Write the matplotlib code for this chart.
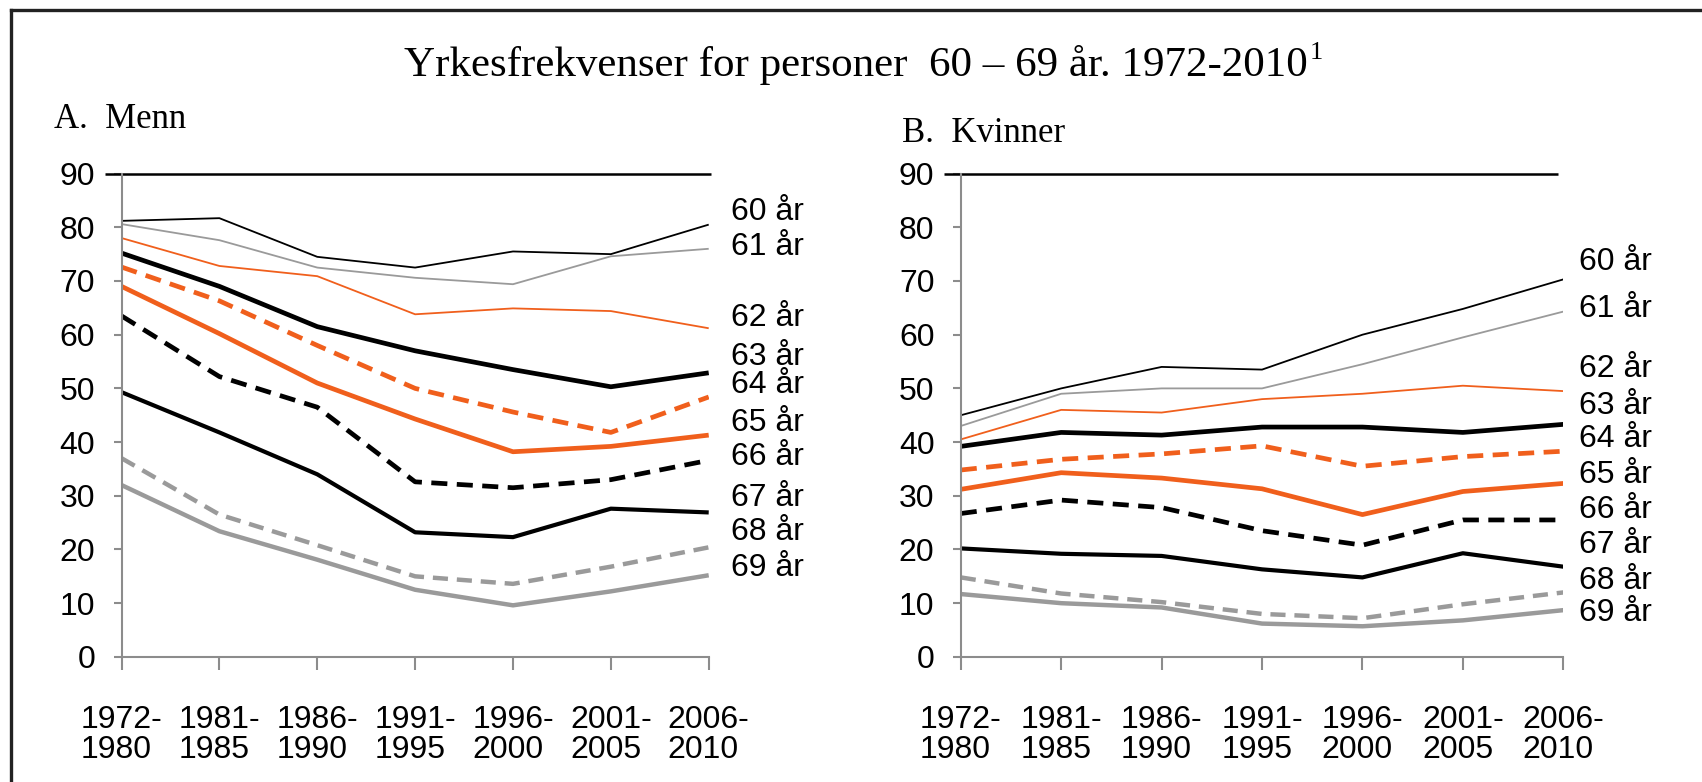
import matplotlib.pyplot as plt
from matplotlib.lines import Line2D

#
# Data (percent in work, by age group)
#
periods = ["1972-\n1980", "1981-\n1985", "1986-\n1990", "1991-\n1995",
           "1996-\n2000", "2001-\n2005", "2006-\n2010"]
ages = ["60 år", "61 år", "62 år", "63 år", "64 år",
        "65 år", "66 år", "67 år", "68 år", "69 år"]

menn_60 = [81.2, 81.7, 74.5, 72.5, 75.5, 75.0, 80.5]
menn_61 = [80.6, 77.6, 72.5, 70.6, 69.4, 74.6, 76.0]
menn_62 = [78.0, 72.8, 70.9, 63.8, 64.9, 64.4, 61.2]
menn_63 = [75.2, 69.0, 61.5, 57.0, 53.5, 50.3, 52.9]
menn_64 = [72.6, 66.3, 58.0, 50.0, 45.6, 41.8, 48.4]
menn_65 = [69.0, 60.2, 51.0, 44.3, 38.2, 39.2, 41.3]
menn_66 = [63.5, 52.2, 46.5, 32.6, 31.5, 33.0, 36.6]
menn_67 = [49.3, 41.8, 34.0, 23.2, 22.3, 27.6, 26.9]
menn_68 = [37.0, 26.5, 20.8, 15.0, 13.6, 16.8, 20.4]
menn_69 = [32.0, 23.4, 18.1, 12.5, 9.6, 12.2, 15.2]

kvinner_60 = [45.0, 50.0, 54.0, 53.5, 60.0, 64.8, 70.3]
kvinner_61 = [43.0, 49.0, 50.0, 50.0, 54.5, 59.5, 64.3]
kvinner_62 = [40.5, 46.0, 45.5, 48.0, 49.0, 50.5, 49.5]
kvinner_63 = [39.2, 41.8, 41.3, 42.8, 42.8, 41.8, 43.3]
kvinner_64 = [34.8, 36.8, 37.8, 39.3, 35.5, 37.3, 38.3]
kvinner_65 = [31.2, 34.3, 33.3, 31.3, 26.5, 30.8, 32.3]
kvinner_66 = [26.7, 29.2, 27.8, 23.5, 20.8, 25.5, 25.5]
kvinner_67 = [20.2, 19.2, 18.8, 16.3, 14.8, 19.3, 16.8]
kvinner_68 = [14.8, 11.8, 10.2, 8.0, 7.2, 9.8, 12.0]
kvinner_69 = [11.7, 10.0, 9.2, 6.2, 5.7, 6.8, 8.7]

menn = [menn_60, menn_61, menn_62, menn_63, menn_64,
        menn_65, menn_66, menn_67, menn_68, menn_69]
kvinner = [kvinner_60, kvinner_61, kvinner_62, kvinner_63, kvinner_64,
           kvinner_65, kvinner_66, kvinner_67, kvinner_68, kvinner_69]

# where the age labels sit (y, in data units)
label_y_menn = [82.9, 76.3, 63.2, 55.9, 50.7, 43.5, 37.2, 29.6, 23.3, 16.6]
label_y_kvinner = [73.5, 64.7, 53.6, 46.7, 40.5, 33.8, 27.3, 20.8, 14.2, 8.1]

#
# Styles
#
orange = "#f05f1c"
grey = "#9a9a9a"
dash = (3.4, 2.0)
styles = [
    dict(color="black", lw=1.3),
    dict(color=grey, lw=1.3),
    dict(color=orange, lw=1.3),
    dict(color="black", lw=3.4),
    dict(color=orange, lw=3.4, dashes=dash),
    dict(color=orange, lw=3.4),
    dict(color="black", lw=3.4, dashes=dash),
    dict(color="black", lw=3.0),
    dict(color=grey, lw=3.2, dashes=dash),
    dict(color=grey, lw=3.2),
]

sans = ["Liberation Sans Narrow", "Liberation Sans", "DejaVu Sans"]
serif = ["Liberation Serif", "DejaVu Serif"]

fig = plt.figure(figsize=(17.02, 7.82), dpi=100)

# frame (top and left border)
fig.add_artist(Line2D([0.0065, 1.0], [0.987, 0.987], color="#222222", lw=2.4,
                      transform=fig.transFigure))
fig.add_artist(Line2D([0.0065, 0.0065], [0.0, 0.987], color="#222222", lw=2.4,
                      transform=fig.transFigure))

title = fig.text(0.503, 0.917, "Yrkesfrekvenser for personer  60 \u2013 69 år. 1972-2010",
                 ha="center", va="center", fontsize=31, family=serif)


def draw_panel(rect, data, label_y, heading, heading_xy, label_off, line_end):
    ax = fig.add_axes(rect)
    x = list(range(len(periods)))
    for vals, st in zip(data, styles):
        ax.plot(x, vals, solid_capstyle="butt", dash_capstyle="butt", **st)
    ax.set_xlim(0, len(periods) - 1)
    ax.set_ylim(0, 90)
    ax.set_yticks(range(0, 91, 10))
    ax.set_xticks(x)
    ax.set_xticklabels(periods, family=sans, fontsize=23, multialignment="left",
                       linespacing=1.0)
    for t in ax.get_yticklabels():
        t.set_family(sans)
        t.set_fontsize(23)
    ax.tick_params(axis="x", length=9, width=1.5, color="#8c8c8c", pad=26)
    ax.tick_params(axis="y", length=6, width=1.5, color="#8c8c8c", pad=13)
    for s in ["top", "right"]:
        ax.spines[s].set_visible(False)
    for s in ["left", "bottom"]:
        ax.spines[s].set_color("#8c8c8c")
        ax.spines[s].set_linewidth(1.5)
    # black line at 90
    ax.plot([-0.17, line_end], [90, 90], color="black", lw=1.8,
            clip_on=False, solid_capstyle="butt")
    for lab, yy in zip(ages, label_y):
        ax.annotate(lab, xy=(1.0, yy), xycoords=("axes fraction", "data"),
                    xytext=(label_off, 0), textcoords="offset points",
                    va="center", ha="left", fontsize=23, family=sans)
    fig.text(heading_xy[0], heading_xy[1], heading, ha="left", va="center",
             fontsize=25, family=serif)
    return ax


draw_panel([0.0714, 0.160, 0.345, 0.618], menn, label_y_menn,
           "A.  Menn", (0.032, 0.847), 16, 6.02)
ax_b = draw_panel([0.5645, 0.160, 0.354, 0.618], kvinner, label_y_kvinner,
                  "B.  Kvinner", (0.530, 0.829), 11, 5.95)

# superscript 1 after the title
ax_b.annotate("1", xy=(1.0, 1.0), xycoords=title, xytext=(1, 2),
              textcoords="offset points", va="top", ha="left",
              fontsize=19, family=serif, annotation_clip=False)

fig.savefig("out.png", dpi=100)
